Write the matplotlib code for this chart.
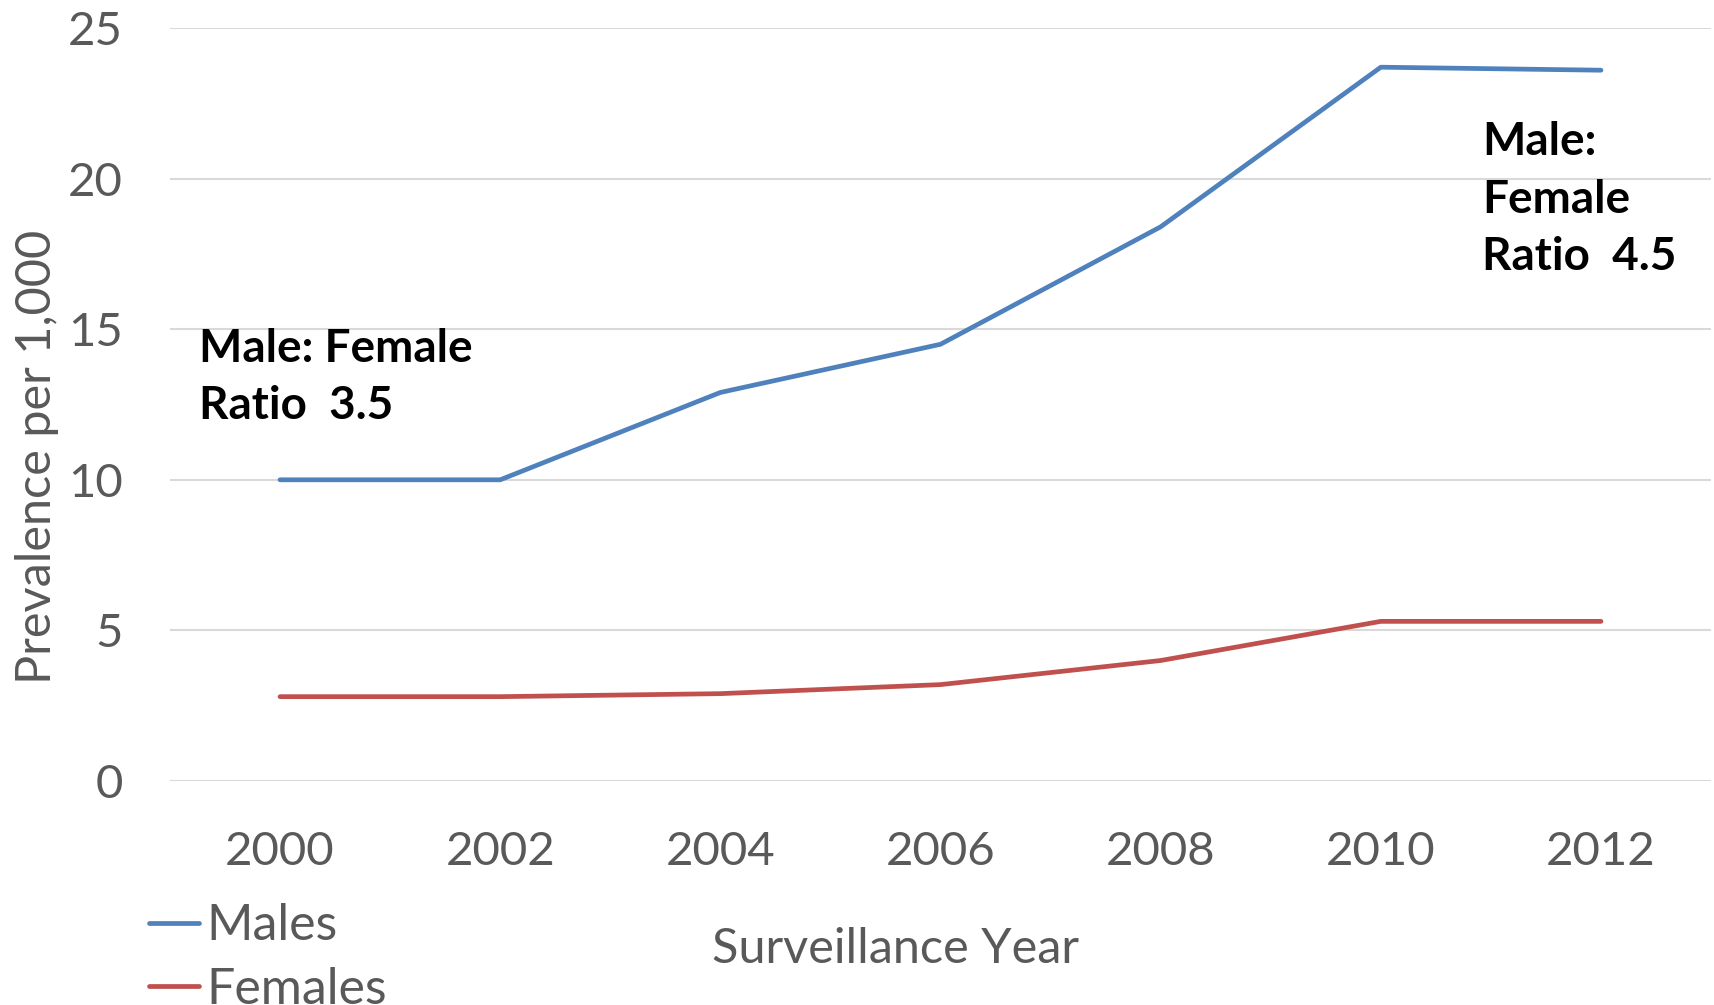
import matplotlib
matplotlib.use("Agg")
import matplotlib.pyplot as plt

years = ["2000", "2002", "2004", "2006", "2008", "2010", "2012"]
males = [10.0, 10.0, 12.9, 14.5, 18.4, 23.7, 23.6]
females = [2.8, 2.8, 2.9, 3.2, 4.0, 5.3, 5.3]
y_ticks = [0, 5, 10, 15, 20, 25]

plt.rcParams['font.family'] = ['Lato', 'DejaVu Sans']
grey = '#595959'

fig = plt.figure(figsize=(17.15, 10.05), dpi=100)
ax = fig.add_axes([0.0991, 0.2229, 0.8986, 0.7492])

x = list(range(len(years)))
ax.plot(x, males, color='#4F81BD', lw=3.4, solid_capstyle='round', label='Males')
ax.plot(x, females, color='#C0504D', lw=3.4, solid_capstyle='round', label='Females')

ax.set_xlim(-0.5, len(years) - 0.5)
ax.set_ylim(0, 25)
ax.set_yticks(y_ticks)
ax.set_xticks(x)
ax.set_xticklabels(years)
ax.grid(axis='y', color='#D9D9D9', lw=1.5)
ax.set_axisbelow(True)
for s in ax.spines.values():
    s.set_visible(False)
ax.tick_params(length=0, labelsize=34, colors=grey, pad=36)
ax.tick_params(axis='y', pad=34)

ax.set_ylabel('Prevalence per 1,000', fontsize=35, color=grey)
ax.yaxis.set_label_coords(-0.072, 0.43)
fig.text(0.522, 0.056, 'Surveillance Year', fontsize=35, color=grey,
         ha='center', va='center')

ax.text(-0.37, 15.05, 'Male: Female\nRatio  3.5', fontsize=33, fontweight='bold',
        va='top', ha='left', linespacing=1.45)
ax.text(5.46, 21.9, 'Male:\nFemale\nRatio  4.5', fontsize=33, fontweight='bold',
        va='top', ha='left', linespacing=1.45)

fig.legend(loc='upper left', bbox_to_anchor=(0.087, 0.101), frameon=False,
           fontsize=36, handlelength=1.0, handletextpad=0.15, labelspacing=0.35,
           borderpad=0, borderaxespad=0, labelcolor=grey)

fig.savefig('out.png', dpi=100)
